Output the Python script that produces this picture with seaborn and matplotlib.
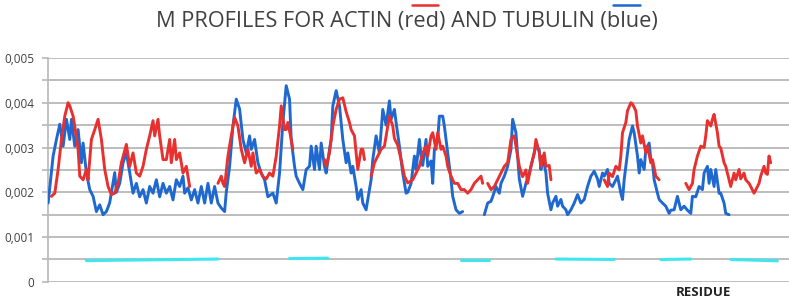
import numpy as np
import pandas as pd
import seaborn as sns
import matplotlib.pyplot as plt
from matplotlib.lines import Line2D

nan = np.nan

# M values are in units of 0.001; NaN marks a gap in the profile
actin_res = [2, 4, 6, 8, 10, 12, 13, 15, 16, 18, 19, 21, 23, 24, 26, 28, 30, 32, 34, 36, 38, 40, 42, 44,
             47, 49, 51, 53, 55, 57, 59, 61, 63, 64, 66, 67, 69, 71, 73, 74, 76, 77, 79, 81, 83, 85, nan,
             102, 104, 105, 106, 108, 110, 112, 114, 116, 118, 120, 122, 123, 125, 127, 129, 131, 133, 135,
             137, 139, 140, 142, 143, 144, 146, 147, nan,
             166, 167, 169, 171, 173, 175, 177, 179, 181, 182, 184, 185, 186, 188, 189, 190, nan,
             194, 196, 198, 200, 202, 205, 207, 208, 210, 212, 214, 216, 219, 221, 223, 225, 227, 228, 230,
             231, 233, 234, 236, 237, 239, 240, 242, 244, 246, 248, 250, 252, 254, 256, 258, 260, 261, nan,
             264, 266, 268, 270, 272, 274, 276, 278, 280, 281, 283, 285, 287, 288, 290, 292, 293, 295, 296,
             298, 299, 301, 302, nan,
             334, 336, 337, 339, 341, 343, 344, 345, 347, 348, 350, 351, 353, 354, 356, 357, 359, 360, 362,
             363, 365, 367, nan,
             383, 385, 387, 388, 390, 392, 394, 395, 396, 398, 399, 400, 402, 403, 404, 406, 407, 409, 410,
             412, 413, 415, 416, 418, 419, 421, 422, 424, 425, 427, 428, 430, 431, 432, 433, 434]
actin_m = [1.91, 1.98, 2.51, 3.18, 3.70, 4.00, 3.93, 3.70, 3.48, 2.96, 2.36, 2.28, 2.51, 2.28, 3.18, 3.40,
           3.63, 3.18, 2.51, 2.13, 1.95, 1.98, 2.20, 2.66, 3.07, 2.58, 2.88, 2.43, 2.36, 2.58, 2.96, 3.26,
           3.60, 3.26, 3.63, 3.26, 2.73, 2.73, 3.18, 2.66, 3.18, 2.73, 2.88, 2.43, 2.58, 2.13, nan,
           2.20, 2.36, 2.20, 2.13, 2.81, 3.26, 3.67, 3.48, 2.96, 2.66, 2.96, 2.58, 2.88, 2.43, 2.51, 2.35,
           2.30, 2.43, 2.36, 2.81, 3.48, 3.93, 3.40, 3.40, 3.56, 3.18, 2.96, nan,
           2.73, 2.58, 2.88, 3.48, 3.85, 4.08, 4.11, 3.80, 3.56, 3.40, 3.26, 2.88, 2.51, 2.96, 2.96, 2.73, nan,
           2.36, 2.66, 2.81, 2.96, 3.03, 3.70, 3.48, 3.20, 3.05, 2.73, 2.36, 2.21, 2.28, 2.43, 2.58, 2.88,
           3.03, 2.81, 3.26, 3.33, 2.96, 3.33, 2.96, 3.03, 2.81, 2.58, 2.36, 2.20, 2.20, 2.06, 2.06, 1.98,
           2.06, 2.20, 2.28, 2.36, 2.20, nan,
           2.20, 2.06, 2.13, 2.28, 2.43, 2.58, 2.66, 3.18, 3.26, 3.03, 2.58, 2.35, 2.50, 2.20, 2.58, 2.88,
           3.18, 2.88, 2.58, 2.88, 2.58, 2.60, 2.28, nan,
           2.28, 2.13, 2.43, 2.35, 2.58, 2.50, 2.81, 3.33, 3.56, 3.82, 4.00, 3.97, 3.82, 3.48, 3.10, 3.26,
           2.88, 3.03, 2.66, 2.73, 2.36, 2.28, nan,
           2.20, 2.06, 2.20, 2.51, 2.81, 3.03, 3.00, 3.26, 3.60, 3.48, 3.63, 3.74, 3.33, 3.03, 2.99, 2.66,
           2.58, 2.28, 2.13, 2.43, 2.28, 2.51, 2.30, 2.43, 2.28, 2.20, 2.13, 1.98, 2.05, 2.20, 2.36, 2.58,
           2.43, 2.40, 2.81, 2.66]

tubulin_res = [0, 3, 5, 7, 9, 11, 13, 14, 16, 18, 20, 21, 23, 25, 27, 29, 31, 33, 35, 37, 40, 41, 43, 45,
               47, 49, 51, 53, 55, 57, 59, 61, 63, 65, 67, 69, 71, 73, 75, 77, 79, 81, 82, 84, 86, 88, 90,
               92, 94, 96, 98, 100, 102, 104, 106, 107, 109, 111, 113, 115, 117, 119, 121, 122, 124, 126,
               128, 130, 132, 135, 137, 139, 141, 143, 145, 146, 148, 149, 151, 153, 155, 157, 158, 160,
               161, 163, 164, 166, 167, 169, 170, 171, 173, 175, 177, 179, 180, 182, 183, 185, 186, 188,
               189, 191, 192, 194, 195, 197, 199, 201, 203, 205, 206, 208, 209, 211, 213, 215, 216, 218,
               220, 221, 223, 224, 225, 227, 228, 230, 231, 232, 234, 235, 237, 238, 240, 242, 243, 245,
               247, 249, nan,
               262, 264, 266, 267, 269, 271, 272, 274, 276, 278, 279, 281, 282, 283, 285, 287, 289, 291,
               293, 295, 296, 297, 299, 300, 302, 303, 305, 306, 308, 309, 311, 312, 314, 316, 318, 320,
               322, 324, 326, 328, 330, 331, 333, 334, 336, 337, 339, 341, 342, 344, 345, 346, 348, 349,
               351, 352, 354, 355, 356, 358, 359, 361, 362, 363, 364, 366, 367, 369, 371, 373, 374, 376,
               378, 380, 382, 384, 386, 387, 389, 391, 393, 394, 396, 397, 398, 400, 401, 403, 404, 406,
               407, 409]
tubulin_m = [1.76, 2.81, 3.18, 3.52, 3.03, 3.63, 3.18, 3.63, 3.03, 3.40, 2.66, 3.10, 2.43, 2.06, 1.91,
             1.57, 1.72, 1.50, 1.57, 1.77, 2.44, 2.00, 2.20, 2.66, 2.88, 2.44, 1.98, 2.20, 1.90, 2.06, 1.76,
             2.13, 1.98, 2.28, 1.90, 2.20, 1.98, 2.13, 1.83, 2.28, 2.13, 2.36, 1.98, 2.10, 1.83, 2.06, 1.76,
             2.13, 1.76, 2.20, 1.76, 2.13, 1.76, 1.65, 1.57, 2.00, 2.58, 3.48, 4.08, 3.86, 3.18, 2.88, 3.26,
             2.96, 3.18, 2.66, 2.43, 2.28, 1.90, 1.98, 1.76, 2.43, 3.56, 4.38, 4.08, 3.18, 2.58, 2.36, 2.20,
             2.06, 2.51, 2.58, 3.03, 2.51, 3.03, 2.51, 3.10, 2.58, 2.43, 2.96, 3.18, 3.93, 4.27, 3.93, 3.18,
             2.66, 2.88, 2.43, 2.58, 2.13, 1.84, 2.06, 1.76, 1.61, 1.84, 2.28, 2.73, 3.26, 2.88, 3.85, 3.50,
             4.04, 3.63, 3.85, 3.56, 3.03, 2.43, 1.98, 2.00, 2.20, 2.81, 2.51, 3.18, 2.81, 2.60, 3.18, 2.58,
             2.70, 2.20, 2.96, 3.18, 3.70, 3.70, 3.48, 2.88, 2.28, 1.91, 1.61, 1.53, 1.57, nan,
             1.50, 1.76, 1.80, 1.90, 2.13, 1.98, 2.20, 2.36, 2.58, 2.96, 3.63, 3.33, 2.81, 2.30, 1.91, 2.20,
             2.43, 2.73, 3.03, 2.95, 2.51, 2.81, 2.43, 1.98, 1.61, 1.76, 1.91, 1.69, 1.84, 1.69, 1.61, 1.50,
             1.61, 1.76, 1.95, 1.76, 1.84, 2.13, 2.36, 2.47, 2.30, 2.13, 2.43, 2.36, 2.51, 2.20, 2.13, 2.28,
             2.36, 1.98, 1.84, 2.28, 2.88, 3.18, 3.48, 3.33, 2.81, 2.43, 2.73, 2.51, 2.96, 3.10, 2.73, 2.66,
             2.28, 1.98, 1.84, 1.76, 1.69, 1.53, 1.60, 1.61, 1.91, 1.61, 1.69, 1.60, 1.53, 1.91, 1.90, 2.13,
             2.06, 2.43, 2.58, 2.20, 2.51, 2.13, 2.51, 1.98, 1.98, 1.76, 1.53, 1.50]

# cyan bars at M = 0.0005
cyan_res = [23, 102, nan, 145, 168, nan, 248, 265, nan, 305, 340, nan, 368, 386, nan, 410, 438]
cyan_m = [0.475, 0.51, nan, 0.52, 0.53, nan, 0.49, 0.49, nan, 0.51, 0.50, nan, 0.50, 0.51, nan, 0.50, 0.47]

y_ticks = [0, 0.001, 0.002, 0.003, 0.004, 0.005]
y_labels = ["0", "0,001", "0,002", "0,003", "0,004", "0,005"]


def to_frame(res, m):
    df = pd.DataFrame({"residue": res, "M": np.array(m) * 1e-3})
    df["seg"] = df["M"].isna().cumsum()
    return df.dropna()


actin = to_frame(actin_res, actin_m)
tubulin = to_frame(tubulin_res, tubulin_m)
cyan = to_frame(cyan_res, cyan_m)

sns.set_style("white")
plt.rcParams["font.family"] = ["Open Sans", "DejaVu Sans"]

fig = plt.figure(figsize=(7.89, 3.01), dpi=100)
ax = fig.add_axes([0.061, 0.0635, 0.939, 0.744])

sns.lineplot(data=cyan, x="residue", y="M", units="seg", estimator=None,
             color="#3fe6ef", lw=2.2, ax=ax, zorder=3)
sns.lineplot(data=tubulin, x="residue", y="M", units="seg", estimator=None,
             color="#1f68d0", lw=2.1, ax=ax, zorder=4)
sns.lineplot(data=actin, x="residue", y="M", units="seg", estimator=None,
             color="#e8302f", lw=2.1, ax=ax, zorder=5)

ax.set_xlim(0, 445)
ax.set_ylim(0, 0.005)
ax.set_xticks([])
ax.set_yticks(y_ticks)
ax.set_yticklabels(y_labels, fontsize=8.5, color="#404040")
ax.set_yticks(np.arange(0, 0.0051, 0.0005), minor=True)
ax.tick_params(axis="y", which="both", length=4, width=1.2, color="#b8b8b8", pad=6, left=True)
ax.grid(axis="y", which="both", color="#bdbdbd", lw=1.4)
ax.set_axisbelow(True)
for side in ["top", "right", "bottom"]:
    ax.spines[side].set_visible(False)
ax.spines["left"].set_color("#b8b8b8")
ax.spines["left"].set_linewidth(1.2)
ax.set_xlabel("")
ax.set_ylabel("")

fig.text(0.516, 0.928, "M PROFILES FOR ACTIN (red) AND TUBULIN (blue)",
         ha="center", va="center", fontsize=15.7, color="#404040")
fig.add_artist(Line2D([0.522, 0.555], [0.984, 0.984], color="#e8302f", lw=1.8))
fig.add_artist(Line2D([0.777, 0.811], [0.984, 0.984], color="#1f68d0", lw=1.8))
fig.text(0.891, 0.027, "RESIDUE", ha="center", va="center", fontsize=9.5,
         fontweight="bold", color="#222222")

fig.savefig("out.png", dpi=100)
